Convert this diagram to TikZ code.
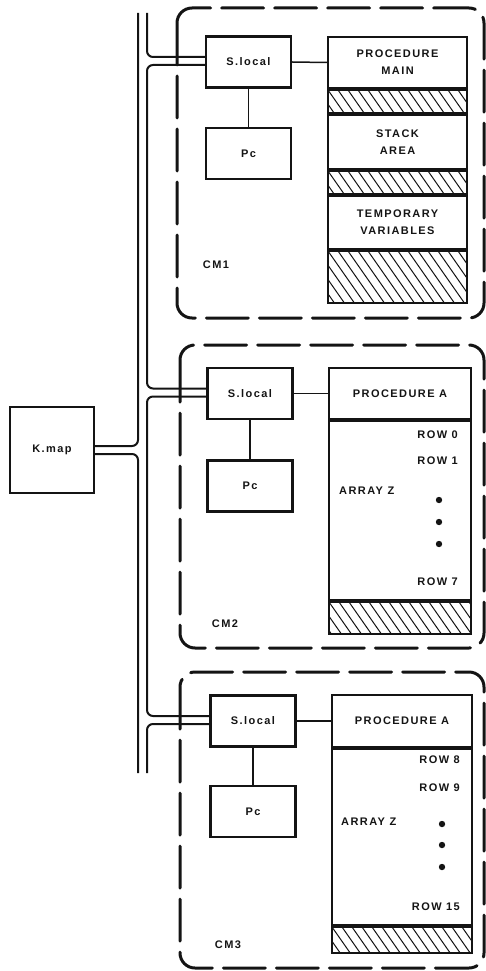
\documentclass[tikz,border=0pt]{standalone}
\usepackage{fontspec}
\usepackage{tikz}
\usetikzlibrary{calc,positioning}
\newfontfamily\lblfont{Liberation Sans}[LetterSpace=13]
\definecolor{inkblack}{RGB}{20,20,20}

\tikzset{
  lbl/.style={font=\lblfont\bfseries\fontsize{11}{17}\selectfont, text=inkblack, inner sep=0pt},
  unitbox/.style={lbl, draw=inkblack, line width=2.4pt, minimum width=85pt, minimum height=51pt, align=center},
  memcell/.style={lbl, draw=inkblack, line width=2pt, inner sep=0pt, align=center},
  hatchband/.style={memcell, path picture={
      \foreach \k in {0,...,24}
        \draw[line width=1pt] ([xshift=\k*10pt-50pt]path picture bounding box.north west) -- ++(42pt,-60pt);}},
  cmframe/.style={draw=inkblack, line width=3pt, dash pattern=on 42pt off 11pt, rounded corners=15pt, line cap=round},
  bus/.style={draw=inkblack, line width=2pt, rounded corners=6pt},
  wire/.style={draw=inkblack, line width=1.5pt}
}

\begin{document}
\begin{tikzpicture}[x=1pt,y=-1pt]
  \useasboundingbox (0,0) rectangle (486,971);

  % module frames
  \draw[cmframe] (177,8) rectangle (484,318);
  \draw[cmframe] (180,345) rectangle (484,648);
  \draw[cmframe] (180,672) rectangle (484,968);

  % CM1
  \node[unitbox] (sl1) at (248.5,62) {S.local};
  \node[unitbox, below=38pt of sl1] (pc1) {Pc};
  \node[memcell, minimum width=139pt, minimum height=51pt] (main1) at (397.5,62.5) {PROCEDURE\\MAIN};
  \node[hatchband, minimum width=139pt, minimum height=23pt, below=0pt of main1] (h1a) {};
  \node[memcell, minimum width=139pt, minimum height=54pt, below=0pt of h1a] (stack1) {STACK\\AREA};
  \node[hatchband, minimum width=139pt, minimum height=23pt, below=0pt of stack1] (h1b) {};
  \node[memcell, minimum width=139pt, minimum height=53pt, below=0pt of h1b] (temp1) {TEMPORARY\\VARIABLES};
  \node[hatchband, minimum width=139pt, minimum height=52pt, below=0pt of temp1] (h1c) {};
  \node[lbl] (cm1) at (216,265) {CM1};
  \draw[wire] (sl1) -- (pc1);
  \draw[wire] (sl1.east) -- (main1.west);

  % CM2
  \node[unitbox] (sl2) at (250,393.5) {S.local};
  \node[unitbox, below=39pt of sl2] (pc2) {Pc};
  \node[memcell, minimum width=142pt, minimum height=51pt] (proc2) at (400,393.5) {PROCEDURE A};
  \node[memcell, minimum width=142pt, minimum height=179pt, below=0pt of proc2] (array2) {};
  \node[hatchband, minimum width=142pt, minimum height=32pt, below=0pt of array2] (h2) {};
  \node[lbl, anchor=east] (r0) at (458,435) {ROW 0};
  \node[lbl, anchor=east] (r1) at (458,461) {ROW 1};
  \node[lbl, anchor=east] (r7) at (458,582) {ROW 7};
  \node[lbl, anchor=west] (az2) at (339,491) {ARRAY Z};
  \foreach \y in {500,522,544} \fill[inkblack] (439,\y) circle (3.2pt);
  \node[lbl] (cm2) at (225,624) {CM2};
  \draw[wire] (sl2) -- (pc2);
  \draw[wire] (sl2.east) -- (proc2.west);

  % CM3
  \node[unitbox] (sl3) at (253,721) {S.local};
  \node[unitbox, below=37pt of sl3] (pc3) {Pc};
  \node[memcell, minimum width=140pt, minimum height=52pt] (proc3) at (402,721) {PROCEDURE A};
  \node[memcell, minimum width=140pt, minimum height=176pt, below=0pt of proc3] (array3) {};
  \node[hatchband, minimum width=140pt, minimum height=26pt, below=0pt of array3] (h3) {};
  \node[lbl, anchor=east] (r8) at (460,760) {ROW 8};
  \node[lbl, anchor=east] (r9) at (460,788) {ROW 9};
  \node[lbl, anchor=east] (r15) at (460,907) {ROW 15};
  \node[lbl, anchor=west] (az3) at (341,822) {ARRAY Z};
  \foreach \y in {824,845,867} \fill[inkblack] (442,\y) circle (3.2pt);
  \node[lbl] (cm3) at (228,945) {CM3};
  \draw[wire] (sl3) -- (pc3);
  \draw[wire] (sl3.east) -- (proc3.west);

  % map unit
  \node[unitbox, minimum width=84pt, minimum height=86pt] (kmap) at (52,450) {K.map};

  % bus
  \coordinate (busin) at (147,13);
  \coordinate (busout) at (138,13);
  \coordinate (busend) at (0,773);
  \foreach \m in {1,2,3} {
    \coordinate (sl\m up) at ($(sl\m.west)+(0,-5)$);
    \coordinate (sl\m dn) at ($(sl\m.west)+(0,3)$);
  }
  \coordinate (kup) at ($(kmap.east)+(0,-4)$);
  \coordinate (kdn) at ($(kmap.east)+(0,4)$);
  \draw[bus] (sl1up) -| (busin);
  \draw[bus] (sl1dn) -| (busin |- sl2up) -- (sl2up);
  \draw[bus] (sl2dn) -| (busin |- sl3up) -- (sl3up);
  \draw[bus] (sl3dn) -| (busin |- busend);
  \draw[bus] (kup) -| (busout);
  \draw[bus] (kdn) -| (busout |- busend);
\end{tikzpicture}
\end{document}
